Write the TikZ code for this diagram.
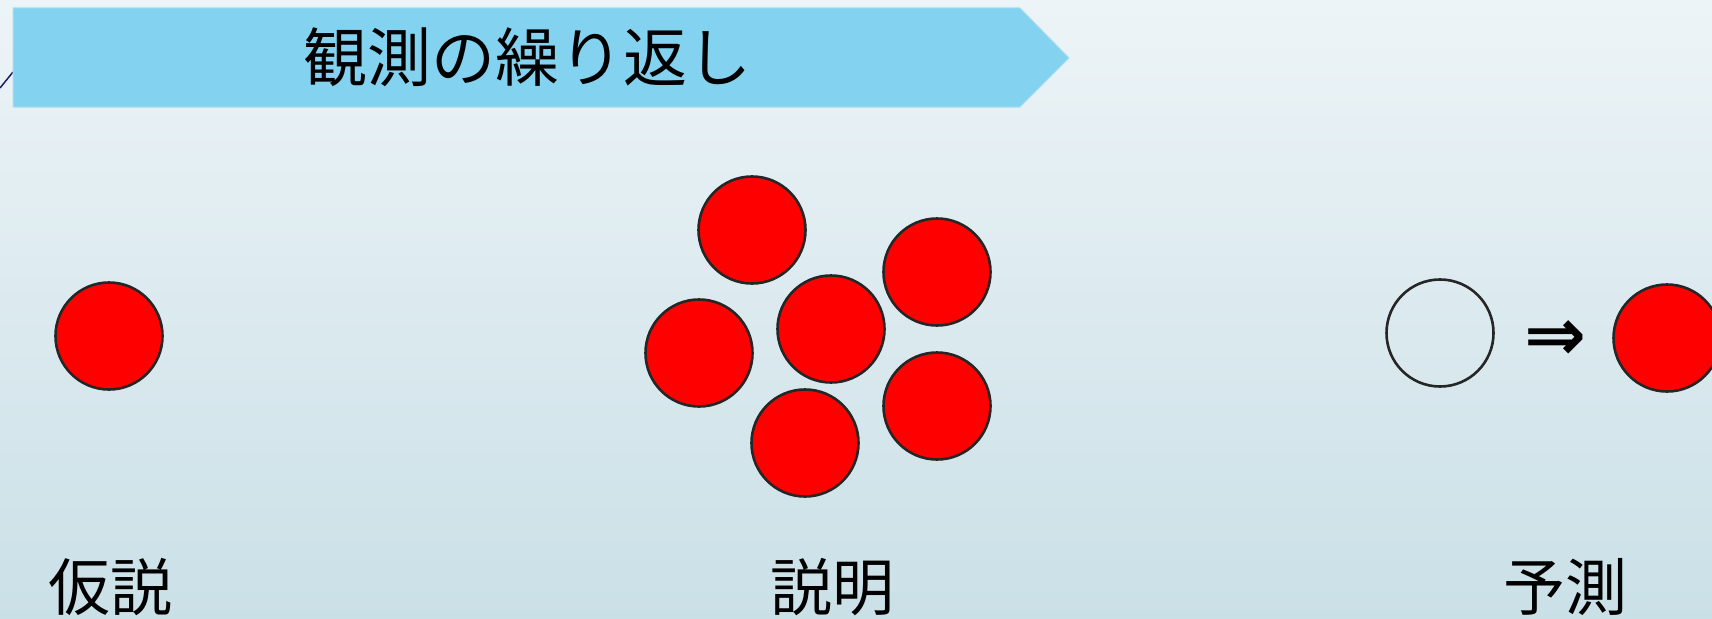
\documentclass[tikz,border=0pt]{standalone}
\usepackage{fontspec}
\newfontfamily\cjk{Noto Sans CJK JP}
\newfontfamily\dejavu{DejaVu Sans}
\definecolor{bgtop}{RGB}{237,244,247}
\definecolor{bgbot}{RGB}{202,224,231}
\definecolor{banner}{RGB}{131,210,240}
\definecolor{bannerline}{RGB}{170,222,242}
\definecolor{ring}{RGB}{38,38,38}
\tikzset{
  ball/.style={circle, minimum size=107pt, inner sep=0pt, draw=ring, line width=2.6pt, fill=red},
  hole/.style={circle, minimum size=107pt, inner sep=0pt, draw=ring, line width=2.6pt},
  label/.style={font=\cjk\fontsize{62}{72}\selectfont, inner sep=0pt, anchor=base},
}
\begin{document}
\begin{tikzpicture}[x=1pt,y=-1pt]
\useasboundingbox (0,0) rectangle (1712,618);
\shade[top color=bgtop, bottom color=bgbot] (0,0) rectangle (1712,618);
% small line at left
\coordinate (l1) at (0,88);
\coordinate (l2) at (13,72);
\draw[color=ring!70!blue, line width=1.5pt] (l1) -- (l2);
% banner
\draw[fill=banner, draw=bannerline, line width=1pt] (13,8) -- (1020,8) -- (1069,58) -- (1020,107) -- (13,107) -- cycle;
\node[font=\cjk\fontsize{64}{74}\selectfont, inner sep=0pt] (title) at (527,57) {観測の繰り返し};
% hypothesis
\node[ball] (h) at (109,336) {};
% explanation
\node[ball] (e1) at (752,230) {};
\node[ball] (e2) at (937,272) {};
\node[ball] (e3) at (831,329) {};
\node[ball] (e4) at (699,353) {};
\node[ball] (e5) at (937,406) {};
\node[ball] (e6) at (805,443) {};
% prediction
\node[hole] (p1) at (1440,333) {};
\node[font=\dejavu\bfseries\fontsize{74}{84}\selectfont, inner sep=0pt] (arr) at (1555,341) {⇒};
\node[ball] (p2) at (1667,338) {};
% labels
\node[label] (t1) at (110,610) {仮説};
\node[label] (t2) at (832,610) {説明};
\node[label] (t3) at (1565,610) {予測};
\end{tikzpicture}
\end{document}
